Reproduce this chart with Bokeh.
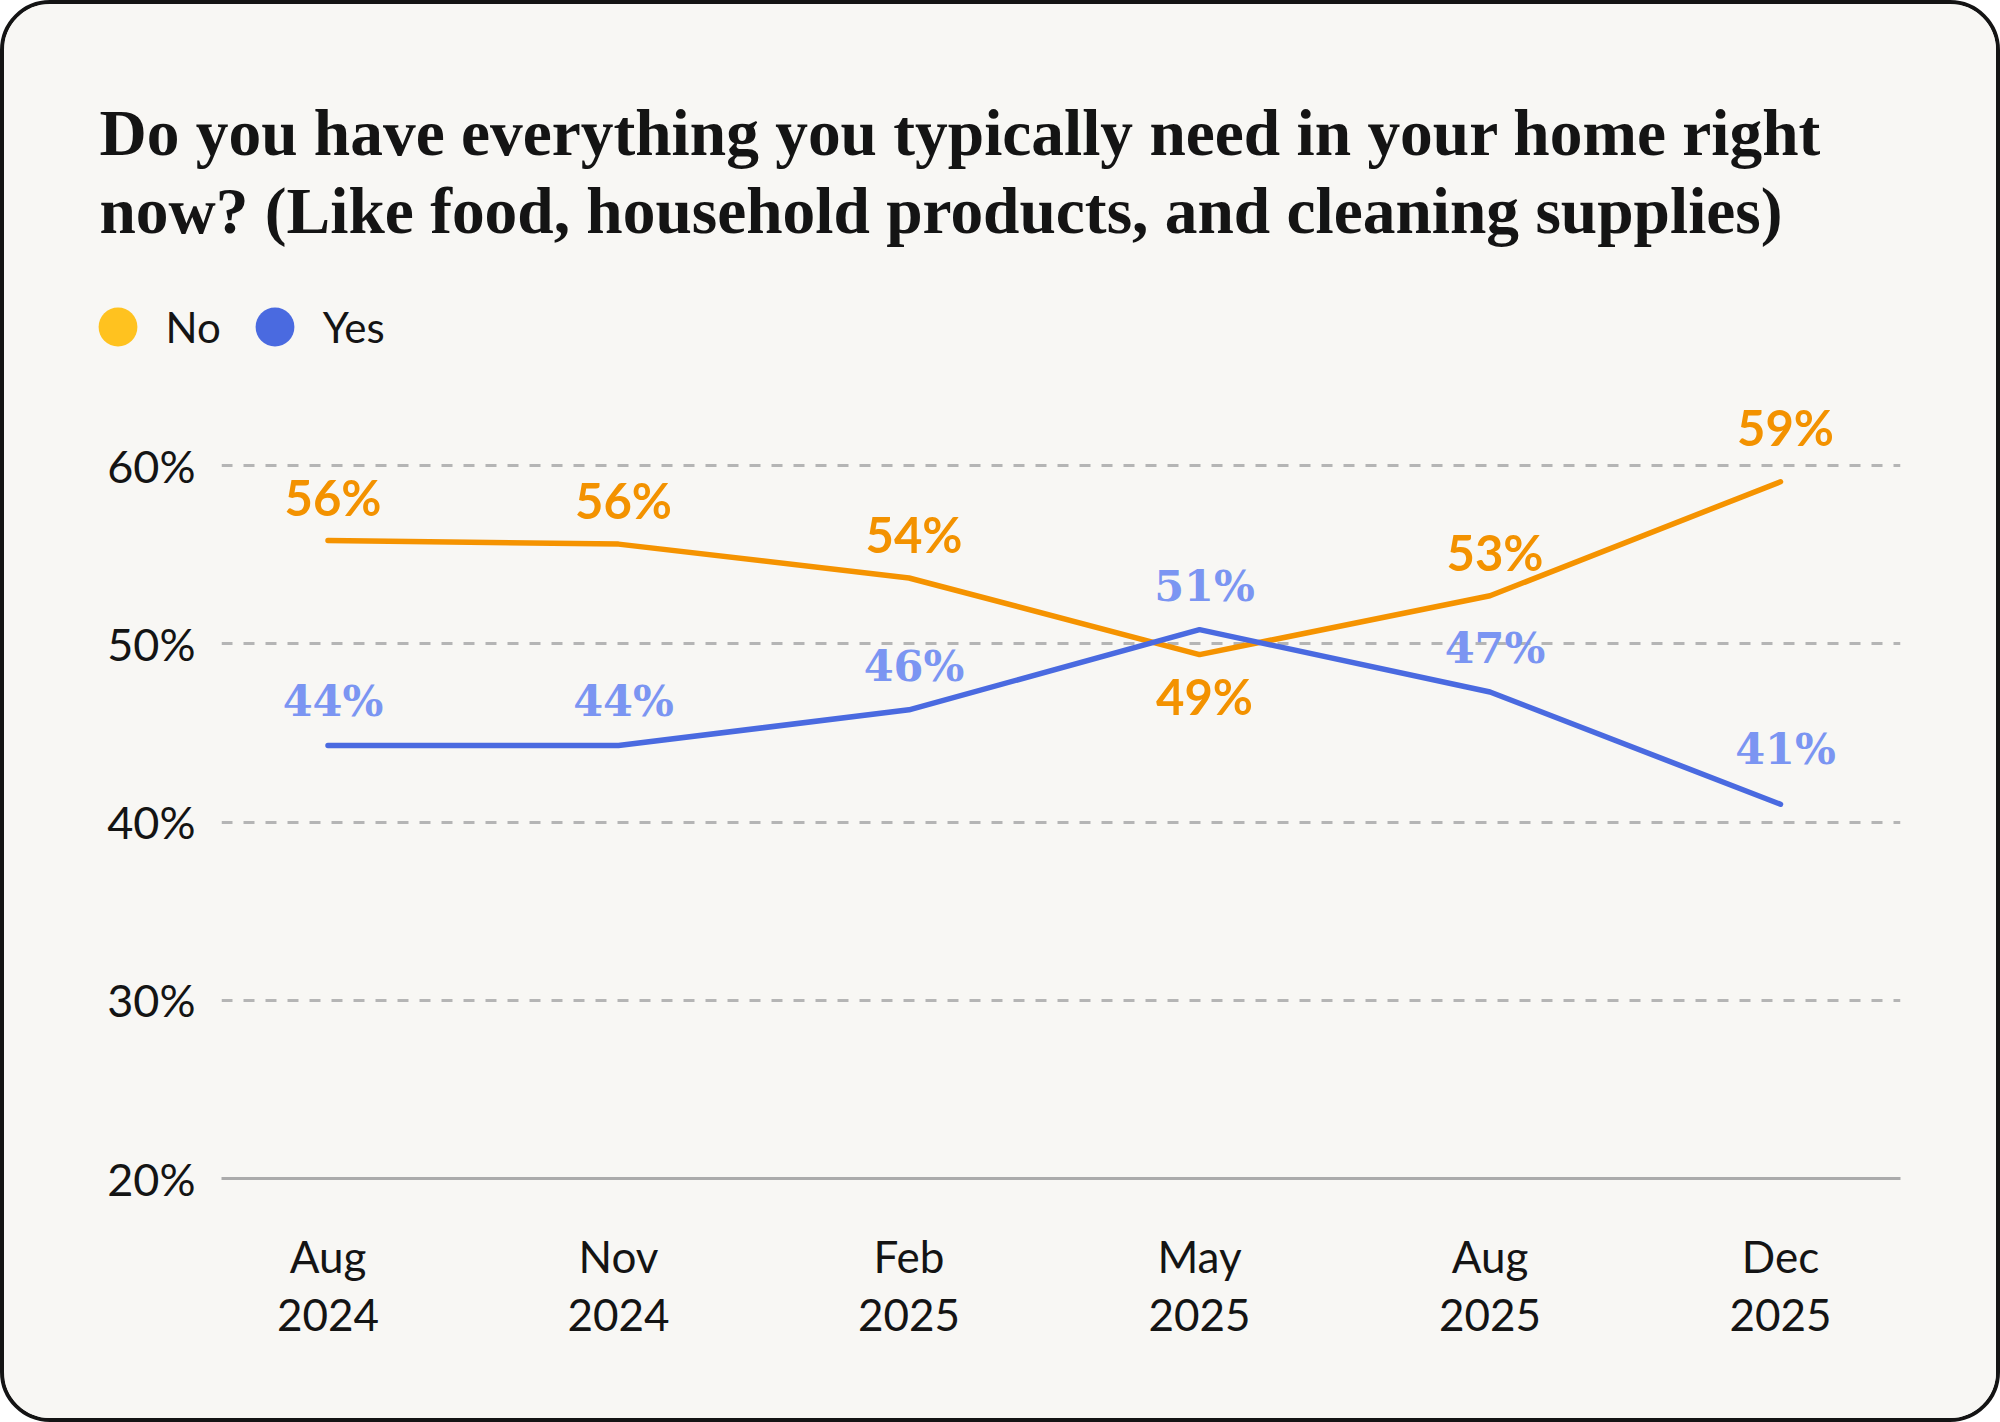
from bokeh.plotting import figure
from bokeh.layouts import column
from bokeh.models import (ColumnDataSource, Range1d, FixedTicker, Legend,
                          LegendItem, Label)
from bokeh.core.properties import value
from bokeh.embed import file_html
from bokeh.resources import INLINE

# ---------------- data ----------------
months = ["Aug", "Nov", "Feb", "May", "Aug", "Dec"]
years = ["2024", "2024", "2025", "2025", "2025", "2025"]
no_vals = [55.8, 55.6, 53.7, 49.4, 52.7, 59.1]
yes_vals = [44.3, 44.3, 46.3, 50.8, 47.3, 41.0]
y_ticks = [20, 30, 40, 50, 60]
series_names = ["No", "Yes"]
title_lines = [
    "Do you have everything you typically need in your home right",
    "now? (Like food, household products, and cleaning supplies)",
]

# ---------------- style ----------------
BG = "#F8F7F4"
ORANGE = "#F59300"
ORANGE_LBL = "#F39200"
BLUE = "#4A6AE0"
BLUE_LBL = "#7B95F2"
YELLOW_DOT = "#FFC21F"
GRID = "#B5B5B5"
INK = "#141414"

W = 1992
HH = 372            # header height (title + legend)
CH = 1414 - HH      # chart height
FL, FR = 217, 1896  # chart frame left/right
FT, FB = 14, 802    # chart frame top/bottom (local px)

# ---------------- header: title + legend ----------------
hdr = figure(width=W, height=HH, output_backend="svg", toolbar_location=None,
             x_range=Range1d(0, W), y_range=Range1d(0, HH),
             x_axis_type=None, y_axis_type=None,
             min_border=0, min_border_left=0, min_border_right=0,
             min_border_top=0, min_border_bottom=0)
hdr.frame_align = False
hdr.title_location = None
hdr.background_fill_color = BG
hdr.border_fill_color = BG
hdr.outline_line_color = None

for i, line in enumerate(title_lines):
    hdr.add_layout(Label(x=95, y=HH - (128 + 78 * i), x_units="screen", y_units="screen",
                         text=line, text_font="Liberation Serif", text_font_style="bold",
                         text_font_size="65.4px", text_color=INK, text_baseline="alphabetic"))

r_no = hdr.scatter(x=[-100], y=[-100], marker="circle", fill_color=YELLOW_DOT, line_color=None)
r_yes = hdr.scatter(x=[-100], y=[-100], marker="circle", fill_color=BLUE, line_color=None)
legend = Legend(items=[LegendItem(label=series_names[0], renderers=[r_no]),
                       LegendItem(label=series_names[1], renderers=[r_yes])],
                orientation="horizontal", location=(64.5, HH - 274.2 - 97),
                glyph_width=97, glyph_height=97, label_standoff=-3, spacing=5,
                padding=0, margin=0, border_line_color=None, background_fill_alpha=0,
                label_text_font="Lato", label_text_font_size="42px",
                label_text_color=INK)
hdr.add_layout(legend)

# ---------------- chart ----------------
p = figure(width=W, height=CH, output_backend="svg", toolbar_location=None,
           x_range=Range1d(-0.3666, 5.413), y_range=Range1d(20, 64.22),
           min_border_left=FL, min_border_right=W - FR,
           min_border_top=FT, min_border_bottom=CH - FB)
p.frame_align = False
p.title_location = None
p.background_fill_color = BG
p.border_fill_color = BG
p.outline_line_color = None

xs = list(range(len(months)))
p.xaxis.ticker = FixedTicker(ticks=xs)
p.xaxis.major_label_overrides = {i: f"{m}\n{y}" for i, (m, y) in enumerate(zip(months, years))}
p.xaxis.axis_line_color = "#ABABAB"
p.xaxis.axis_line_width = 3
p.xaxis.major_tick_line_color = None
p.xaxis.minor_tick_line_color = None
p.xaxis.major_label_standoff = 45
p.xaxis.major_label_text_font = "Lato"
p.xaxis.major_label_text_font_size = "44px"
p.xaxis.major_label_text_color = INK
p.xaxis.major_label_text_line_height = 1.13

p.yaxis.ticker = FixedTicker(ticks=y_ticks)
p.yaxis.major_label_overrides = {t: f"{t}%" for t in y_ticks}
p.yaxis.axis_line_color = None
p.yaxis.major_tick_line_color = None
p.yaxis.minor_tick_line_color = None
p.yaxis.major_label_standoff = 20
p.yaxis.major_label_text_font = "Lato"
p.yaxis.major_label_text_font_size = "45px"
p.yaxis.major_label_text_color = INK

p.xgrid.grid_line_color = None
p.ygrid.ticker = FixedTicker(ticks=[t for t in y_ticks if t > y_ticks[0]])
p.ygrid.grid_line_color = GRID
p.ygrid.grid_line_width = 3
p.ygrid.grid_line_dash = "11 11"

p.line(xs, no_vals, line_color=ORANGE, line_width=5.5, line_cap="round", line_join="round")
p.line(xs, yes_vals, line_color=BLUE, line_width=5.5, line_cap="round", line_join="round")

# label placement: above the point (further up at the line's end), below when under the other series
last = len(xs) - 1
def above(i):
    return -55 if i == last else -44
no_off = [41 if n < y else above(i) for i, (n, y) in enumerate(zip(no_vals, yes_vals))]
yes_off = [above(i) for i in range(len(yes_vals))]
src_no = ColumnDataSource(dict(x=xs, y=no_vals, t=[f"{round(v)}%" for v in no_vals], off=no_off))
src_yes = ColumnDataSource(dict(x=xs, y=yes_vals, t=[f"{round(v)}%" for v in yes_vals], off=yes_off))
p.text(x="x", y="y", text="t", y_offset="off", x_offset=5, source=src_no, text_align="center",
       text_baseline="middle", text_font=value("Lato"), text_font_style="bold",
       text_font_size="49px", text_color=ORANGE_LBL)
p.text(x="x", y="y", text="t", y_offset="off", x_offset=5, source=src_yes, text_align="center",
       text_baseline="middle", text_font=value("DejaVu Serif"), text_font_style="bold",
       text_font_size="43px", text_color=BLUE_LBL)

page = column(hdr, p, spacing=0,
              styles={"border": "4px solid #141414", "border-radius": "50px",
                      "overflow": "hidden", "background-color": BG})

open("out.html", "w").write(file_html(page, INLINE))
